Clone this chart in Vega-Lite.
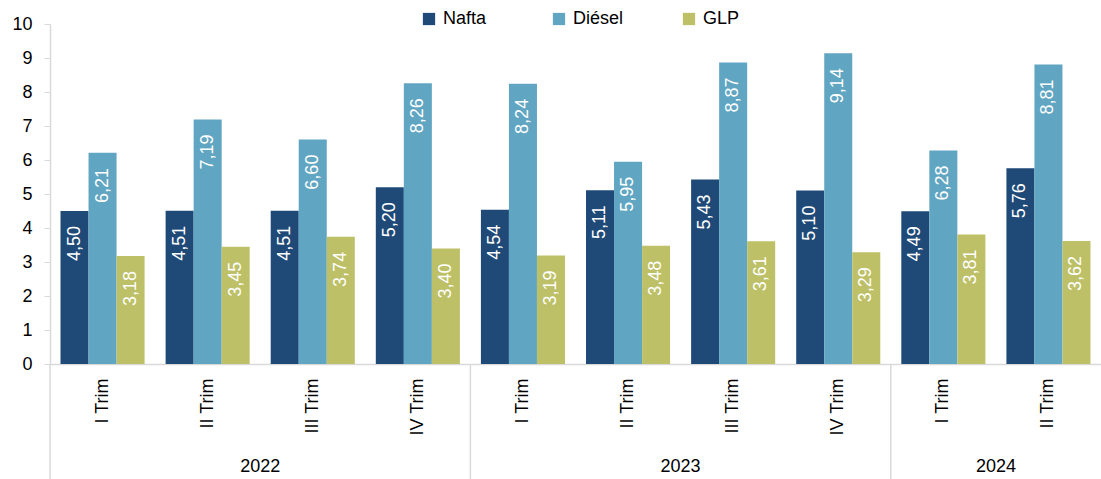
{
  "$schema": "https://vega.github.io/schema/vega-lite/v6.json",
  "autosize": {"type": "none"},
  "width": 1051,
  "height": 340,
  "padding": {"left": 50, "top": 24, "right": 0, "bottom": 115},
  "background": "white",
  "config": {
    "font": "Liberation Sans",
    "view": {"stroke": null},
    "axisY": {"labelOverlap": false, "grid": false, "labelFontSize": 18, "labelColor": "#000000", "labelPadding": 12, "tickSize": 6, "tickColor": "#d9d9d9", "domainColor": "#d9d9d9", "domainWidth": 1.5, "title": null},
    "axisX": {"labelAngle": 270, "labelAlign": "right", "labelBaseline": "middle", "labelPadding": 14, "labelFontSize": 18, "labelColor": "#000000", "ticks": false, "domainColor": "#d9d9d9", "domainWidth": 1.5, "labelLimit": 200, "title": null},
    "locale": {"number": {"decimal": ",", "thousands": ".", "grouping": [3], "currency": ["", " €"]}}
  },
  "datasets": {
    "bars": [
      {"key": "2022|I Trim", "serie": "Nafta", "value": 4.50},
      {"key": "2022|I Trim", "serie": "Diésel", "value": 6.21},
      {"key": "2022|I Trim", "serie": "GLP", "value": 3.18},
      {"key": "2022|II Trim", "serie": "Nafta", "value": 4.51},
      {"key": "2022|II Trim", "serie": "Diésel", "value": 7.19},
      {"key": "2022|II Trim", "serie": "GLP", "value": 3.45},
      {"key": "2022|III Trim", "serie": "Nafta", "value": 4.51},
      {"key": "2022|III Trim", "serie": "Diésel", "value": 6.60},
      {"key": "2022|III Trim", "serie": "GLP", "value": 3.74},
      {"key": "2022|IV Trim", "serie": "Nafta", "value": 5.20},
      {"key": "2022|IV Trim", "serie": "Diésel", "value": 8.26},
      {"key": "2022|IV Trim", "serie": "GLP", "value": 3.40},
      {"key": "2023|I Trim", "serie": "Nafta", "value": 4.54},
      {"key": "2023|I Trim", "serie": "Diésel", "value": 8.24},
      {"key": "2023|I Trim", "serie": "GLP", "value": 3.19},
      {"key": "2023|II Trim", "serie": "Nafta", "value": 5.11},
      {"key": "2023|II Trim", "serie": "Diésel", "value": 5.95},
      {"key": "2023|II Trim", "serie": "GLP", "value": 3.48},
      {"key": "2023|III Trim", "serie": "Nafta", "value": 5.43},
      {"key": "2023|III Trim", "serie": "Diésel", "value": 8.87},
      {"key": "2023|III Trim", "serie": "GLP", "value": 3.61},
      {"key": "2023|IV Trim", "serie": "Nafta", "value": 5.10},
      {"key": "2023|IV Trim", "serie": "Diésel", "value": 9.14},
      {"key": "2023|IV Trim", "serie": "GLP", "value": 3.29},
      {"key": "2024|I Trim", "serie": "Nafta", "value": 4.49},
      {"key": "2024|I Trim", "serie": "Diésel", "value": 6.28},
      {"key": "2024|I Trim", "serie": "GLP", "value": 3.81},
      {"key": "2024|II Trim", "serie": "Nafta", "value": 5.76},
      {"key": "2024|II Trim", "serie": "Diésel", "value": 8.81},
      {"key": "2024|II Trim", "serie": "GLP", "value": 3.62}
    ],
    "years": [
      {"year": "2022", "key": "2022|III Trim", "first": "2022|I Trim"},
      {"year": "2023", "key": "2023|III Trim", "first": "2023|I Trim"},
      {"year": "2024", "key": "2024|II Trim", "first": "2024|I Trim"}
    ]
  },
  "layer": [
    {
      "data": {"name": "bars"},
      "mark": {"type": "bar"},
      "encoding": {
        "x": {
          "field": "key", "type": "nominal",
          "scale": {
            "domain": ["2022|I Trim", "2022|II Trim", "2022|III Trim", "2022|IV Trim", "2023|I Trim", "2023|II Trim", "2023|III Trim", "2023|IV Trim", "2024|I Trim", "2024|II Trim"],
            "paddingInner": 0.2, "paddingOuter": 0.1
          },
          "axis": {"labelExpr": "split(datum.label, '|')[1]"}
        },
        "xOffset": {"field": "serie", "type": "nominal", "scale": {"domain": ["Nafta", "Diésel", "GLP"], "paddingInner": 0, "paddingOuter": 0}},
        "y": {
          "field": "value", "type": "quantitative",
          "scale": {"domain": [0, 10], "nice": false},
          "axis": {"values": [0, 1, 2, 3, 4, 5, 6, 7, 8, 9, 10]}
        },
        "color": {
          "field": "serie", "type": "nominal",
          "scale": {"domain": ["Nafta", "Diésel", "GLP"], "range": ["#1f4a78", "#60a5c1", "#bdc067"]},
          "legend": {
            "title": null,
            "orient": "none",
            "legendX": 370,
            "legendY": -14,
            "direction": "horizontal",
            "columns": 3,
            "gridAlign": "all",
            "columnPadding": 56,
            "symbolType": "square",
            "symbolSize": 150,
            "symbolStrokeWidth": 0,
            "labelFontSize": 18,
            "labelColor": "#000000",
            "labelOffset": 5
          }
        }
      }
    },
    {
      "data": {"name": "bars"},
      "mark": {"type": "text", "angle": 270, "align": "right", "baseline": "middle", "dx": -15, "dy": 0, "color": "white", "fontSize": 18},
      "encoding": {
        "x": {"field": "key", "type": "nominal"},
        "xOffset": {"field": "serie", "type": "nominal"},
        "y": {"field": "value", "type": "quantitative", "axis": {"values": [0, 1, 2, 3, 4, 5, 6, 7, 8, 9, 10]}},
        "text": {"field": "value", "type": "quantitative", "format": ".2f"}
      }
    },
    {
      "data": {"name": "years"},
      "mark": {"type": "rule", "color": "#d9d9d9", "strokeWidth": 1.5},
      "encoding": {
        "x": {"field": "first", "type": "nominal", "bandPosition": -0.125},
        "y": {"datum": 0, "axis": {"values": [0, 1, 2, 3, 4, 5, 6, 7, 8, 9, 10]}},
        "y2": {"datum": -3.45}
      }
    },
    {
      "data": {"name": "years"},
      "mark": {"type": "text", "baseline": "middle", "align": "center", "fontSize": 18, "color": "#000000"},
      "encoding": {
        "x": {"field": "key", "type": "nominal", "bandPosition": -0.125},
        "y": {"datum": -3.03, "axis": {"values": [0, 1, 2, 3, 4, 5, 6, 7, 8, 9, 10]}},
        "text": {"field": "year"}
      }
    }
  ]
}
